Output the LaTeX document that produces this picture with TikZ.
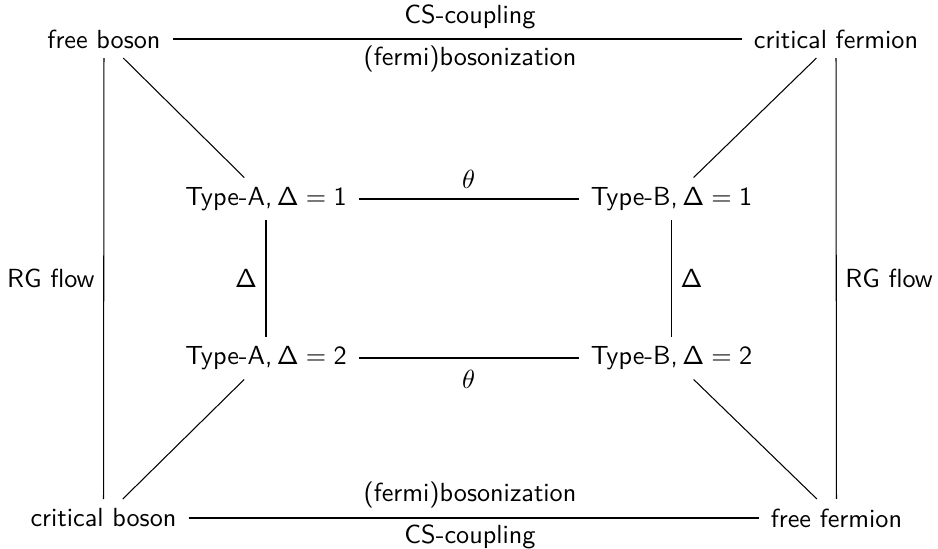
\documentclass[tikz,border=0pt]{standalone}
\usepackage{fontspec}
\renewcommand\familydefault{\sfdefault}
% value of the scaling dimension: sans Delta, a math relation sign, sans digit
\newcommand\dval[1]{Δ\kern0.2778em$=$\kern0.2778em#1}
% type label followed by a thin space, as after a comma in math
\newcommand\tname[1]{Type-#1,\kern0.1667em}
\begin{document}
\begin{tikzpicture}[
    x=0.3817pt, y=-0.3817pt,
    font=\sffamily,
    theory/.style={inner xsep=4.5pt, inner ysep=3.5pt},
    link/.style={line width=0.4pt},
    toplbl/.style={above, inner sep=3.7pt},
    botlbl/.style={below, inner sep=2.4pt},
    anglbl/.style={inner sep=4.6pt},
    sidelbl/.style={inner sep=3.3pt}
  ]
  \useasboundingbox (0,0) rectangle (938,549);

  % outer square
  \node[theory] (fb) at (104,39)    {free boson};
  \node[theory] (cf) at (836,39)    {critical fermion};
  \node[theory] (cb) at (103.5,518) {critical boson};
  \node[theory] (ff) at (836.5,518) {free fermion};

  % inner square
  \node[theory] (a1) at (266,199)   {\tname{A}\dval{1}};
  \node[theory] (b1) at (671.5,199) {\tname{B}\dval{1}};
  \node[theory] (a2) at (266,358)   {\tname{A}\dval{2}};
  \node[theory] (b2) at (671.5,358) {\tname{B}\dval{2}};

  % outer edges
  \draw[link] (fb) -- (cf);
  \path (fb.center) -- node[toplbl] {CS-coupling} node[botlbl] {(fermi)bosonization} (cf.center);
  \draw[link] (cb) -- (ff);
  \path (cb.center) -- node[toplbl] {(fermi)bosonization} node[botlbl] {CS-coupling} (ff.center);
  \draw[link] (fb) -- node[left, sidelbl] {RG flow} (cb);
  \draw[link] (cf) -- node[right, sidelbl] {RG flow} (ff);

  % inner edges
  \draw[link] (a1) -- (b1);
  \path (a1.center) -- node[toplbl] {$\theta$} (b1.center);
  \draw[link] (a2) -- (b2);
  \path (a2.center) -- node[below, anglbl] {$\theta$} (b2.center);
  \draw[link] (a1) -- node[left, sidelbl] {Δ} (a2);
  \draw[link] (b1) -- node[right, sidelbl] {Δ} (b2);

  % diagonals
  \draw[link] (fb) -- (a1);
  \draw[link] (cf) -- (b1);
  \draw[link] (a2) -- (cb);
  \draw[link] (b2) -- (ff);
\end{tikzpicture}
\end{document}
